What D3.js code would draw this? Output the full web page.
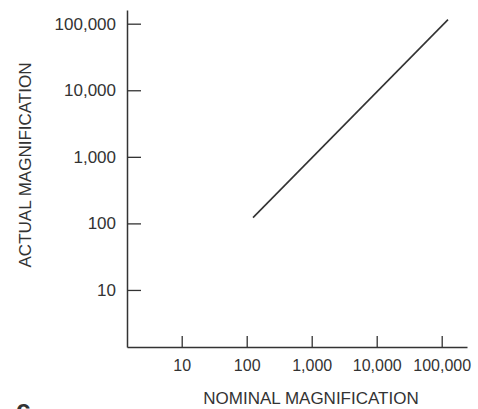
<!DOCTYPE html>
<html>
<head>
<meta charset="utf-8">
<title>magnification</title>
<style>
  body { margin: 0; background: #fff; }
  svg text { font-family: "Liberation Sans", Arial, sans-serif; fill: #333; }
</style>
</head>
<body>
<div id="chart"></div>
<script src="https://cdn.jsdelivr.net/npm/d3@7"></script>
<script>
// values
var nominal = [125, 125000];
var actual = [122, 115000];
var xTicks = [10, 100, 1000, 10000, 100000];
var yTicks = [10, 100, 1000, 10000, 100000];
var xTitle = 'NOMINAL MAGNIFICATION';
var yTitle = 'ACTUAL MAGNIFICATION';

var width = 478, height = 409;
var mLeft = 127, mRight = 467, mTop = 10, mBottom = 347;

var svg = d3.select('#chart')
  .append('svg')
  .attr('width', width)
  .attr('height', height);

var x = d3.scaleLog().domain([1.44, 245000]).range([mLeft, mRight]);
var y = d3.scaleLog().domain([1.39, 160600]).range([mBottom, mTop]);
var fmt = d3.format(',');

var xAxis = svg.append('g')
  .attr('transform', 'translate(0,' + mBottom + ')')
  .call(d3.axisBottom(x).tickValues(xTicks).tickFormat(fmt)
    .tickSizeInner(-11).tickSizeOuter(0).tickPadding(13));

var yAxis = svg.append('g')
  .attr('transform', 'translate(' + mLeft + ',0)')
  .call(d3.axisLeft(y).tickValues(yTicks).tickFormat(fmt)
    .tickSizeInner(-14).tickSizeOuter(0).tickPadding(11));

[xAxis, yAxis].forEach(function(g) {
  g.select('.domain').attr('stroke', '#333').attr('stroke-width', 1.5);
  g.selectAll('.tick line').attr('stroke', '#333').attr('stroke-width', 1.3);
  g.selectAll('.tick text').attr('fill', '#333');
});
xAxis.selectAll('.tick text').style('font-size', '16px');
yAxis.selectAll('.tick text').style('font-size', '17px');

var pts = nominal.map(function(d, i) { return [d, actual[i]]; });
var line = d3.line()
  .x(function(d) { return x(d[0]); })
  .y(function(d) { return y(d[1]); });

svg.append('path')
  .attr('d', line(pts))
  .attr('fill', 'none')
  .attr('stroke', '#333')
  .attr('stroke-width', 1.6);

svg.append('text')
  .attr('x', 311)
  .attr('y', 404)
  .style('text-anchor', 'middle')
  .style('font-size', '17px')
  .text(xTitle);

svg.append('text')
  .attr('transform', 'translate(31,' + 165 + ') rotate(-90)')
  .style('text-anchor', 'middle')
  .style('font-size', '17px')
  .text(yTitle);

// cut-off panel letter at bottom left
svg.append('text')
  .attr('x', 16)
  .attr('y', 418)
  .style('font-size', '26px')
  .style('font-weight', 'bold')
  .text('c');
</script>
</body>
</html>
